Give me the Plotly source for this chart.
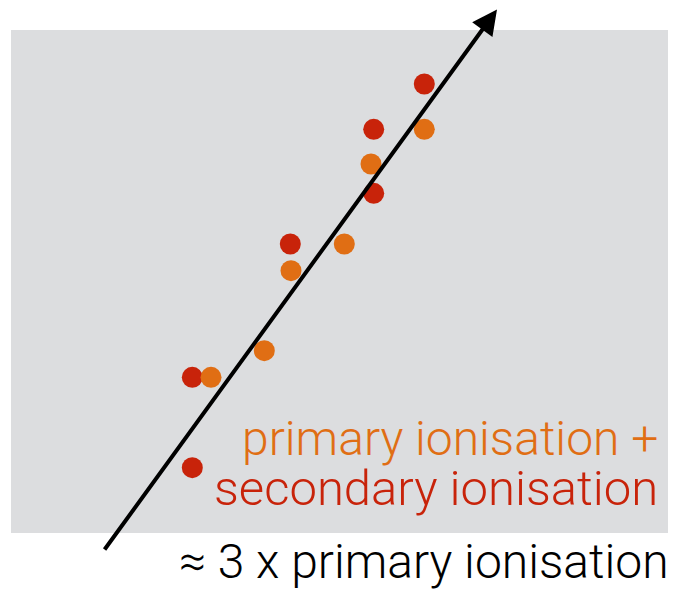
import plotly.graph_objects as go

# values (axis units = pixels of the original image, y grows downward)
red_x = [424.3, 373.7, 373.7, 290.3, 192.3, 192.3]
red_y = [84.0, 129.3, 193.3, 244.0, 377.3, 467.7]
orange_x = [424.3, 371.0, 344.3, 291.0, 264.3, 211.0]
orange_y = [129.3, 164.0, 244.0, 270.7, 350.7, 377.3]
trend_x = [103.5, 497.0]
trend_y = [551.0, 9.5]

label_lines = ["primary ionisation +", "secondary ionisation"]
axis_label = "≈ 3 x primary ionisation"

RED = "#C8230A"
ORANGE = "#E06E14"
GREY = "#DCDDDF"
FONT = "Roboto"

fig = go.Figure()

fig.add_shape(type="rect", xref="x", yref="y", x0=11, x1=668, y0=30, y1=533,
              fillcolor=GREY, line_width=0, layer="below")

fig.add_trace(go.Scatter(x=red_x, y=red_y, mode="markers",
                         marker=dict(size=21, color=RED, line_width=0), hoverinfo="skip"))
fig.add_trace(go.Scatter(x=orange_x, y=orange_y, mode="markers",
                         marker=dict(size=21, color=ORANGE, line_width=0), hoverinfo="skip"))

# arrow drawn on top of the dots
fig.add_annotation(x=trend_x[1], y=trend_y[1], ax=trend_x[0], ay=trend_y[0],
                   xref="x", yref="y", axref="x", ayref="y", text="",
                   showarrow=True, arrowhead=2, arrowwidth=4, arrowsize=1.25,
                   arrowcolor="black")

for txt, col, yc, size in [(label_lines[0], ORANGE, 438, 48), (label_lines[1], RED, 488, 49)]:
    fig.add_annotation(x=660, y=yc, xref="x", yref="y", text=txt, showarrow=False,
                       xanchor="right", yanchor="middle",
                       font=dict(family=FONT, size=size, color=col, weight=300))

fig.add_annotation(x=671, y=561, xref="x", yref="y", text=axis_label, showarrow=False,
                   xanchor="right", yanchor="middle",
                   font=dict(family=FONT, size=48, color="black", weight=300))

fig.update_xaxes(range=[0, 673], visible=False, fixedrange=True)
fig.update_yaxes(range=[590, 0], visible=False, fixedrange=True)
fig.update_layout(width=673, height=590, margin=dict(l=0, r=0, t=0, b=0),
                  paper_bgcolor="white", plot_bgcolor="white", showlegend=False)

# page has a default 8px body margin; drop it so the figure fills the window
fig.write_html("out.html", config={"displayModeBar": False},
               post_script="document.body.style.margin='0';document.body.style.overflow='hidden';")
